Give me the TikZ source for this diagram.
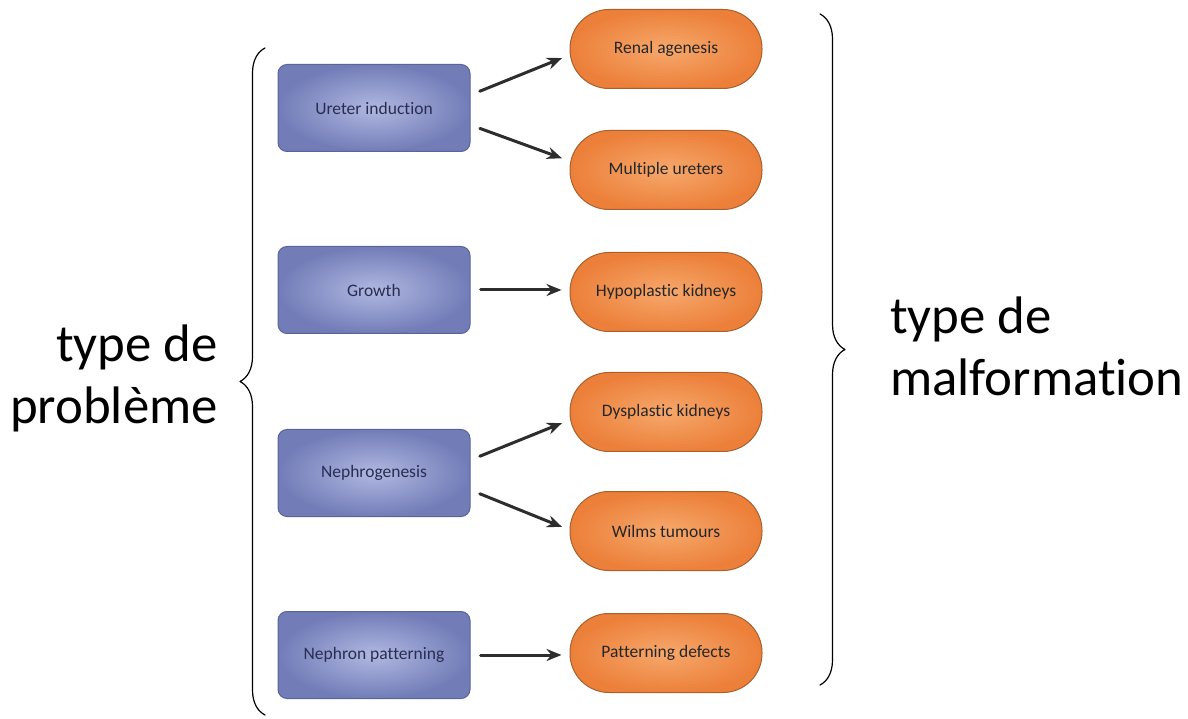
\documentclass[tikz,border=0pt]{standalone}
\usepackage{fontspec}
\setmainfont[Ligatures=NoCommon]{Carlito}
\usetikzlibrary{arrows.meta,positioning,decorations.pathreplacing}
\definecolor{stageblue}{RGB}{114,125,184}
\definecolor{stagebluelight}{RGB}{176,184,224}
\definecolor{stageblueedge}{RGB}{90,100,150}
\definecolor{defectorange}{RGB}{236,128,58}
\definecolor{defectorangelight}{RGB}{246,168,108}
\definecolor{defectedge}{RGB}{168,96,44}
\definecolor{labelnavy}{RGB}{40,46,82}
\definecolor{arrowgrey}{RGB}{45,45,45}

\begin{document}
\begin{tikzpicture}[x=1pt,y=1pt,>=Stealth,line cap=round,line join=round,
 stage/.style={draw=stageblueedge,line width=1pt,rounded corners=9pt,
  inner color=stagebluelight,outer color=stageblue,
  minimum width=192pt,minimum height=87pt,
  font=\fontsize{17.5}{20}\selectfont,text=labelnavy},
 defect/.style={draw=defectedge,line width=1pt,rounded corners=39pt,
  inner color=defectorangelight,outer color=defectorange,
  minimum width=192pt,minimum height=79pt,
  font=\fontsize{17.5}{20}\selectfont,text=black!85},
 link/.style={arrowgrey,line width=3pt,-{Stealth[length=15pt,width=12pt]},
  shorten <=10pt,shorten >=8pt},
 side/.style={font=\fontsize{52.8}{62}\selectfont,inner sep=0pt}]
 \useasboundingbox (0,0) rectangle (1188,718);

 % developmental step (left) and resulting defect (right)
 \node[stage] (ureter) at (374,610) {Ureter induction};
 \node[stage] (growth) at (374,428) {Growth};
 \node[stage] (nephro) at (374,245) {Nephrogenesis};
 \node[stage] (pattern) at (374,63) {Nephron patterning};

 \node[defect] (renal) at (666,669) {Renal agenesis};
 \node[defect] (multi) at (666,548) {Multiple ureters};
 \node[defect] (hypo) at (666,426) {Hypoplastic kidneys};
 \node[defect] (dysp) at (666,306) {Dysplastic kidneys};
 \node[defect] (wilms) at (666,187) {Wilms tumours};
 \node[defect] (pdef) at (666,65) {Patterning defects};

 \draw[link] ([yshift=13pt]ureter.east) -- ([yshift=-6pt]renal.west);
 \draw[link] ([yshift=-17pt]ureter.east) -- ([yshift=9pt]multi.west);
 \draw[link] (growth.east) -- (growth.east -| hypo.west);
 \draw[link] ([yshift=13pt]nephro.east) -- ([yshift=-8pt]dysp.west);
 \draw[link] ([yshift=-17pt]nephro.east) -- ([yshift=1pt]wilms.west);
 \draw[link] (pattern.east) -- (pattern.east -| pdef.west);

 % braces
 \coordinate (lbot) at (265,3);
 \coordinate (ltop) at (265,670);
 \coordinate (rtop) at (820,704);
 \coordinate (rbot) at (820,33);
 \draw[line width=1.2pt,decorate,decoration={brace,amplitude=25pt}] (lbot) -- (ltop);
 \draw[line width=1.2pt,decorate,decoration={brace,amplitude=25pt}] (rtop) -- (rbot);

 \node[side,align=right,anchor=east] (probleme) at (218,340) {type de\\problème};
 \node[side,align=left,anchor=west] (malfo) at (890,372) {type de\\malformation};
\end{tikzpicture}
\end{document}
